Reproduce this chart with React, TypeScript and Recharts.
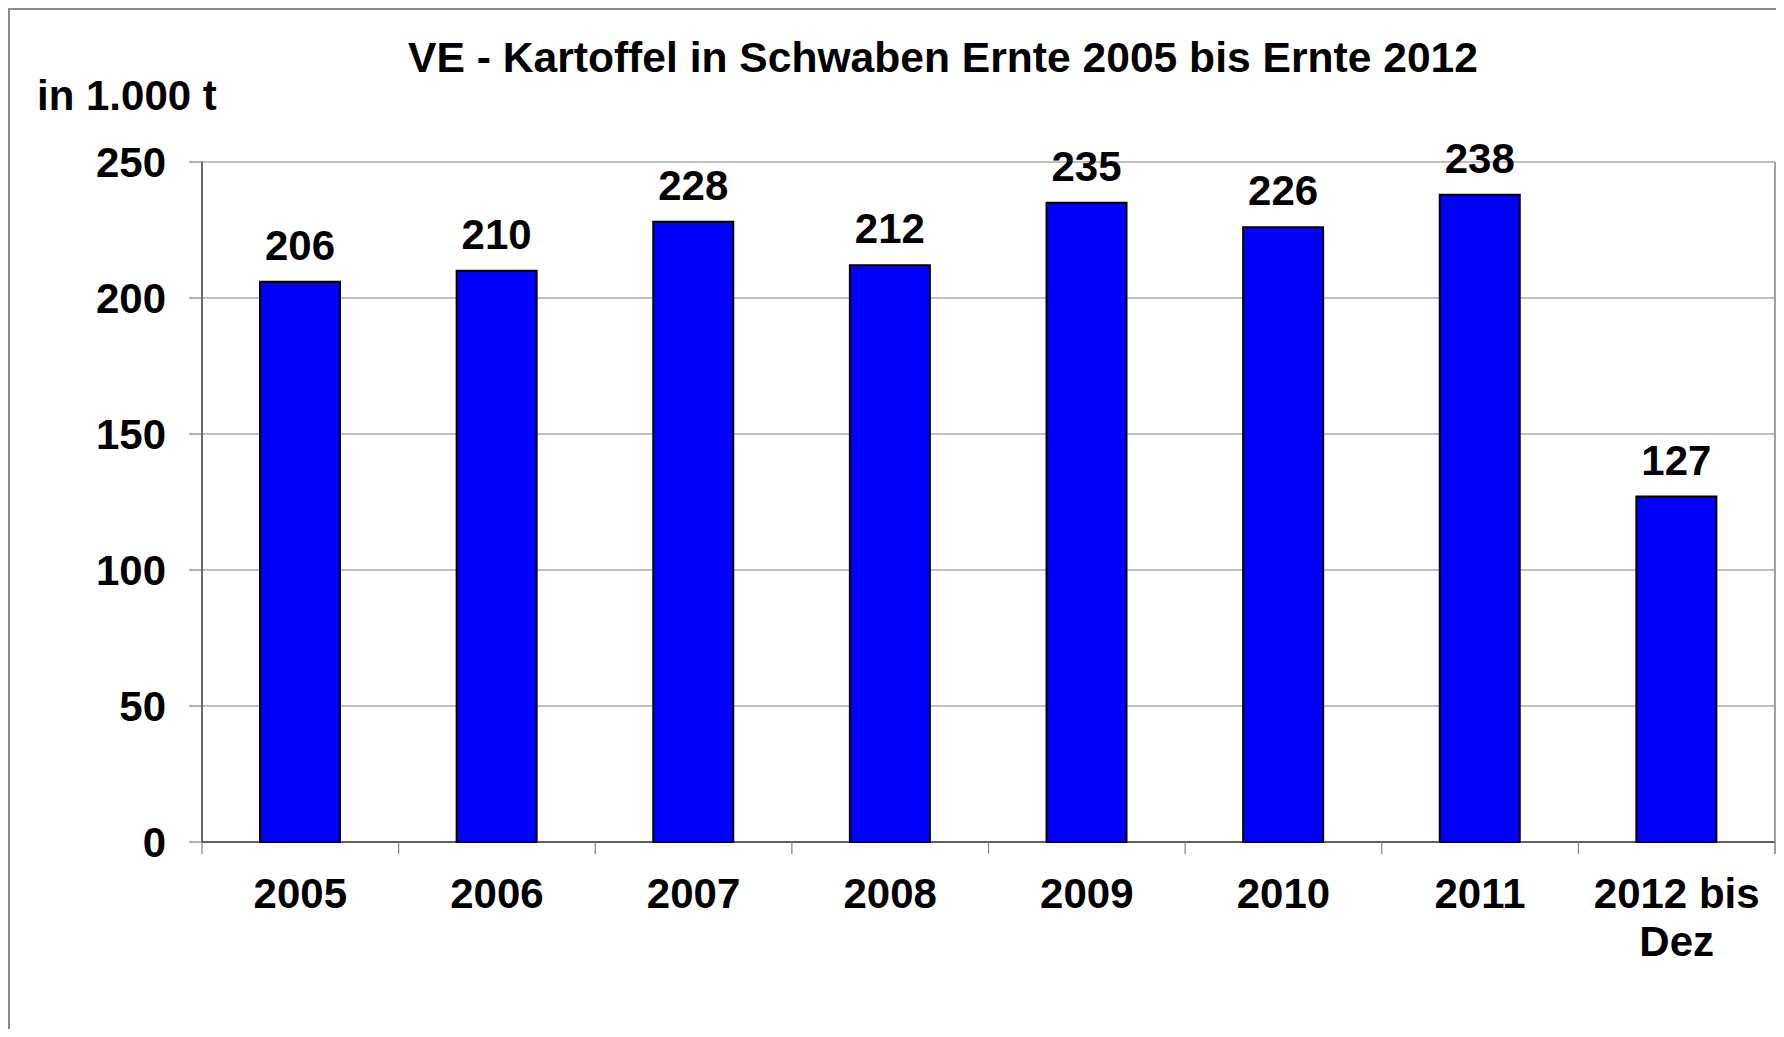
import React from "react";
import {
  BarChart,
  Bar,
  XAxis,
  YAxis,
  CartesianGrid,
  LabelList,
} from "recharts";

const years = ["2005", "2006", "2007", "2008", "2009", "2010", "2011", "2012 bis Dez"];
const harvest = [206, 210, 228, 212, 235, 226, 238, 127];
const yTicks = [0, 50, 100, 150, 200, 250];

const data = years.map((year, i) => ({ year, value: harvest[i] }));

const FONT = '"Liberation Sans", Arial, sans-serif';
const GRID = "#808080";

const wrapLabel = (s: string) => {
  const lines: string[] = [];
  let cur = "";
  s.split(" ").forEach((w) => {
    const next = cur ? cur + " " + w : w;
    if (next.length > 8 && cur) {
      lines.push(cur);
      cur = w;
    } else {
      cur = next;
    }
  });
  if (cur) lines.push(cur);
  return lines;
};

// label plus the small tick marks sitting between the categories
const YearTick = (props: any) => {
  const { x, y, payload, index, visibleTicksCount } = props;
  const half = payload.offset || 0;
  const lines = wrapLabel(String(payload.value));
  const isLast = index === visibleTicksCount - 1;
  return (
    <g>
      <line x1={x - half} x2={x - half} y1={y} y2={y + 12} stroke={GRID} strokeWidth={1.2} />
      {isLast && (
        <line x1={x + half} x2={x + half} y1={y} y2={y + 12} stroke={GRID} strokeWidth={1.5} />
      )}
      <text x={x} y={y} textAnchor="middle" fontSize={42} fontWeight="bold" fill="#000" fontFamily={FONT}>
        {lines.map((l, i) => (
          <tspan key={i} x={x} dy={i === 0 ? 66 : 48}>
            {l}
          </tspan>
        ))}
      </text>
    </g>
  );
};

const App = () => {
  return (
    <div
      style={{
        position: "relative",
        width: 1784,
        height: 1037,
        margin: -8,
        background: "#fff",
        fontFamily: FONT,
      }}
    >
      <div style={{ position: "absolute", left: 0, top: 0 }}>
        <BarChart
          width={1784}
          height={1037}
          data={data}
          margin={{ top: 162, right: 0, left: 2, bottom: 75 }}
        >
          <CartesianGrid vertical={false} stroke={GRID} strokeWidth={1.2} />
          <XAxis
            dataKey="year"
            height={120}
            interval={0}
            tickSize={0}
            tickMargin={0}
            tickLine={false}
            axisLine={{ stroke: "#000", strokeWidth: 1.2 }}
            tick={<YearTick />}
          />
          <YAxis
            width={200}
            domain={[0, 250]}
            ticks={yTicks}
            interval={0}
            tickSize={13}
            tickMargin={23}
            axisLine={{ stroke: "#000", strokeWidth: 1.2 }}
            tickLine={{ stroke: GRID, strokeWidth: 1.2 }}
            tick={{ fontSize: 42, fontWeight: "bold", fill: "#000", fontFamily: FONT }}
          />
          <YAxis
            yAxisId="frame"
            orientation="right"
            width={9}
            domain={[0, 250]}
            ticks={yTicks}
            tick={false}
            tickLine={false}
            axisLine={{ stroke: GRID, strokeWidth: 1.5 }}
          />
          <Bar
            dataKey="value"
            fill="#0000FF"
            stroke="#000"
            strokeWidth={2}
            barSize={80}
            isAnimationActive={false}
          >
            <LabelList
              dataKey="value"
              position="top"
              offset={22}
              fill="#000"
              fontSize={42}
              fontWeight="bold"
              fontFamily={FONT}
            />
          </Bar>
        </BarChart>
      </div>
      <svg
        width={1784}
        height={1037}
        style={{ position: "absolute", left: 0, top: 0, pointerEvents: "none" }}
      >
        <path d="M9 1037 L9 9 L1784 9" fill="none" stroke="#8a8a8a" strokeWidth={2} />
        <text x={943} y={72} textAnchor="middle" fontSize={42.6} fontWeight="bold" fill="#000" fontFamily={FONT}>
          VE - Kartoffel in Schwaben Ernte 2005 bis Ernte 2012
        </text>
        <text x={37} y={110} fontSize={42} fontWeight="bold" fill="#000" fontFamily={FONT}>
          in 1.000 t
        </text>
      </svg>
    </div>
  );
};

export default App;
